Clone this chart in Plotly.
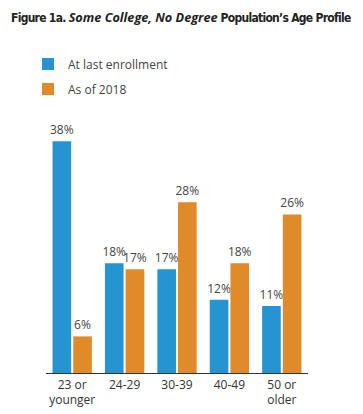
import plotly.graph_objects as go

categories = ["23 or<br>younger", "24-29", "30-39", "40-49", "50 or<br>older"]
at_last_enrollment = [38, 18, 17, 12, 11]
as_of_2018 = [6, 17, 28, 18, 26]
series_names = ["At last enrollment", "As of 2018"]

BLUE = "#2794D2"
ORANGE = "#E08A2A"

# The page body has an 8px default margin; the figure is sized to fit the
# remaining viewport (363x414 window).
W, H = 355, 406

fig = go.Figure()
for name, vals, col, grp in [(series_names[0], at_last_enrollment, BLUE, "a"),
                             (series_names[1], as_of_2018, ORANGE, "b")]:
    fig.add_trace(go.Bar(
        x=categories, y=vals, name=name, legendgroup=grp,
        marker=dict(color=col, line=dict(width=0)),
        text=[f"{v}%" for v in vals], textposition="outside",
        constraintext="none",
        textfont=dict(size=12, color="#444444", family="Open Sans"),
        cliponaxis=False,
    ))

cond = "font-family:DejaVu Sans Condensed;font-size:12px;letter-spacing:-0.72px"
title = (f"<span style='{cond}'><b>Figure 1a. </b></span>"
         "<span style='font-family:Open Sans;font-size:12.7px'><b><i>Some College, No Degree</i></b></span>"
         f"<span style='{cond}'><b> Population’s Age Profile</b></span>")

fig.update_layout(
    width=W, height=H,
    margin=dict(l=38, r=55, t=121, b=41, autoexpand=False),
    paper_bgcolor="white", plot_bgcolor="white",
    barmode="group", bargap=0.21, bargroupgap=0.1,
    showlegend=True,
    legend=dict(xref="container", yref="container",
                x=20 / W, y=1 - 41.5 / H, xanchor="left", yanchor="top",
                font=dict(size=12, color="#444444", family="Open Sans"),
                traceorder="grouped", tracegroupgap=6,
                itemwidth=30),
    font=dict(family="Open Sans", color="#333333"),
    xaxis=dict(showline=True, linecolor="#333333", linewidth=1.2,
               ticks="", tickfont=dict(size=12, color="#333333"),
               showgrid=False, range=[-0.5, 4.5], automargin=False),
    yaxis=dict(range=[0, 40], visible=False, showgrid=False, automargin=False),
    annotations=[dict(text=title, xref="paper", yref="paper",
                      x=-37 / 262, y=1.0, xanchor="left", yanchor="middle",
                      yshift=112, showarrow=False,
                      font=dict(size=13, color="#222222"))],
)

fig.write_html("out.html")
